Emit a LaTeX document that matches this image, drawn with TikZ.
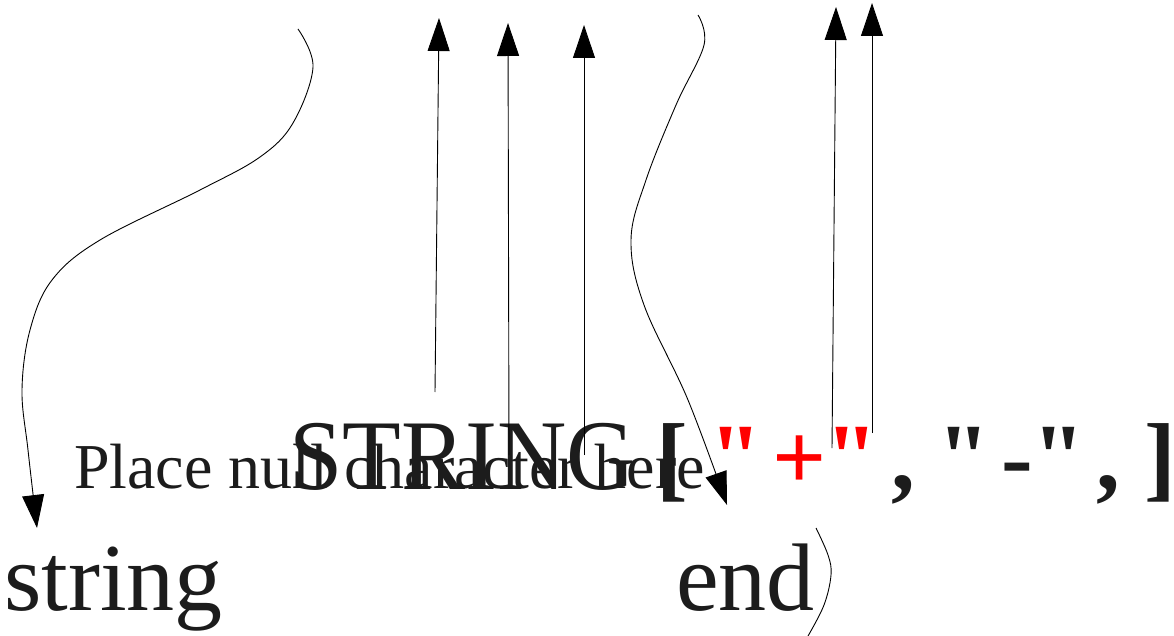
\documentclass[tikz,border=0pt]{standalone}
\usepackage{graphicx}
\usepackage{fontspec}
\setmainfont{Liberation Serif}
\newfontfamily\tokfont{Liberation Serif}
\usetikzlibrary{arrows.meta}
\definecolor{ink}{RGB}{28,28,28}
\definecolor{qred}{RGB}{255,0,0}
\tikzset{
  big/.style={font=\fontsize{96}{96}\selectfont, text=ink, inner sep=0pt, anchor=base west},
  note/.style={font=\fontsize{64}{64}\selectfont, text=ink, inner sep=0pt, anchor=base west},
  tok/.style={font=\tokfont\fontsize{95}{95}\selectfont\bfseries, text=ink, inner sep=0pt, anchor=base west},
  redtok/.style={tok, text=qred},
  link/.style={line width=0.9pt, draw=black},
  arr/.style={link, -{Triangle[length=33pt,width=22pt]}}
}
\begin{document}
\begin{tikzpicture}[x=1pt,y=-1pt]
\useasboundingbox (0,0) rectangle (1174,636);
% texts
\node[big] (string) at (4,610) {string};
\node[big] (end) at (676,610) {end};
\node[note] (place) at (74,488) {Place null character here};
\node[inner sep=0pt, anchor=base west, text=ink] (STRING) at (289,489)
  {\scalebox{0.96}[1]{\fontsize{100}{100}\selectfont STRING}};
\node[tok] (lb) at (656,489) {[};
\node[redtok] (q1) at (709,489) {"};
\node[redtok] (plus) at (772,489) {+};
\node[redtok] (q2) at (825,489) {"};
\node[tok] (c1) at (891,489) {,};
\node[tok] (q3) at (937,489) {"};
\node[tok] (minus) at (1001,489) {-};
\node[tok] (q4) at (1032,489) {"};
\node[tok] (c2) at (1096,489) {,};
\node[tok] (rb) at (1144,489) {]};
% connector ends
\coordinate (s1) at (298,29);
\coordinate (t1) at (37,528);
\coordinate (s2) at (435,392);
\coordinate (t2) at (439,18);
\coordinate (s3) at (509,455);
\coordinate (t3) at (508,23);
\coordinate (s4) at (584,455);
\coordinate (t4) at (584,25);
\coordinate (s5) at (698,15);
\coordinate (t5) at (727,505);
\coordinate (s6) at (832,448);
\coordinate (t6) at (836,7);
\coordinate (s7) at (872,433);
\coordinate (t7) at (872,3);
\coordinate (s8) at (816,528);
\coordinate (t8) at (808,636);
% connectors
\draw[arr] plot[smooth, tension=0.6] coordinates {(s1) (313,67) (293,123) (260,157) (200,190) (100,240) (52,280) (30,330) (22,390) (28,450) (t1)};
\draw[arr] (s2) -- (t2);
\draw[arr] (s3) -- (t3);
\draw[arr] (s4) -- (t4);
\draw[arr] plot[smooth, tension=0.6] coordinates {(s5) (704,45) (676,105) (646,180) (631,240) (644,305) (688,400) (t5)};
\draw[arr] (s6) -- (t6);
\draw[arr] (s7) -- (t7);
\draw[link] plot[smooth, tension=0.6] coordinates {(s8) (828,555) (831,575) (824,605) (t8)};
\end{tikzpicture}
\end{document}
